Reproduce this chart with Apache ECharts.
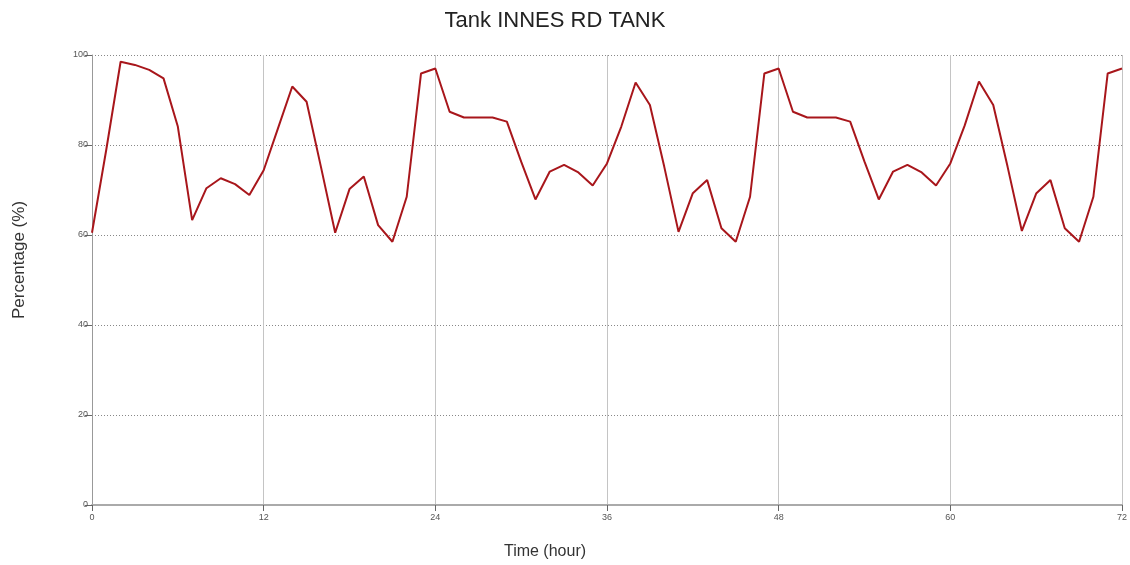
<!DOCTYPE html>
<html>
<head>
<meta charset="utf-8">
<script src="https://cdn.jsdelivr.net/npm/echarts@6/dist/echarts.min.js"></script>
<style>html,body{margin:0;padding:0;background:#fff;}#c{width:1130px;height:565px;}</style>
</head>
<body>
<div id="c"></div>
<script>
const title = "Tank INNES RD TANK";
const xName = "Time (hour)";
const yName = "Percentage (%)";
const hours = [0,1,2,3,4,5,6,7,8,9,10,11,12,13,14,15,16,17,18,19,20,21,22,23,24,25,26,27,28,29,30,31,32,33,34,35,36,37,38,39,40,41,42,43,44,45,46,47,48,49,50,51,52,53,54,55,56,57,58,59,60,61,62,63,64,65,66,67,68,69,70,71,72];
const percentage = [60.5,79.0,98.5,97.8,96.7,94.8,84.1,63.3,70.4,72.6,71.3,68.9,74.4,83.7,93.0,89.6,75.2,60.5,70.2,73.0,62.2,58.5,68.5,95.9,97.0,
  87.4,86.1,86.1,86.1,85.2,76.3,67.9,74.1,75.6,73.9,71.0,75.9,84.1,93.9,88.9,75.2,60.7,69.3,72.2,61.5,58.5,68.5,95.9,97.0,
  87.4,86.1,86.1,86.1,85.2,76.3,67.9,74.1,75.6,73.9,71.0,75.9,84.3,94.1,88.9,75.2,60.9,69.2,72.2,61.5,58.5,68.5,95.9,97.0];

const FONT = 'Liberation Sans, Arial, sans-serif';
const chart = echarts.init(document.getElementById('c'), null, {renderer:'canvas'});
chart.setOption({
  backgroundColor:'#fff',
  animation:false,
  title:{text:title,left:550,textAlign:'center',top:5,textStyle:{fontFamily:FONT,fontSize:22,fontWeight:'normal',color:'#222'}},
  graphic:[
    {type:'text',x:545,y:552,style:{text:xName,font:'16px '+FONT,fill:'#333',textAlign:'center',textVerticalAlign:'middle'}},
    {type:'text',x:19,y:260,rotation:Math.PI/2,style:{text:yName,font:'17px '+FONT,fill:'#333',textAlign:'center',textVerticalAlign:'middle'}}
  ],
  grid:{left:92,right:3,top:55,bottom:60,containLabel:false},
  xAxis:{type:'value',min:0,max:72,interval:12,
    axisLine:{lineStyle:{color:'#aaa',width:2}},
    axisTick:{show:true,length:6,lineStyle:{color:'#666'}},
    axisLabel:{fontFamily:FONT,fontSize:9,color:'#555',margin:8},
    splitLine:{show:true,lineStyle:{color:'#c4c4c4',width:1,type:'solid'}}},
  yAxis:{type:'value',min:0,max:100,interval:20,
    axisLine:{show:true,lineStyle:{color:'#999',width:1}},
    axisTick:{show:true,length:7,lineStyle:{color:'#666'}},
    axisLabel:{fontFamily:FONT,fontSize:9,color:'#555',margin:4},
    splitLine:{show:true,lineStyle:{color:'#888',width:1,type:[1,2]}}},
  series:[{type:'line',data:hours.map((h,i)=>[h,percentage[i]]),showSymbol:false,
    lineStyle:{color:'#a8161b',width:2},itemStyle:{color:'#a8161b'}}]
});
</script>
</body>
</html>
